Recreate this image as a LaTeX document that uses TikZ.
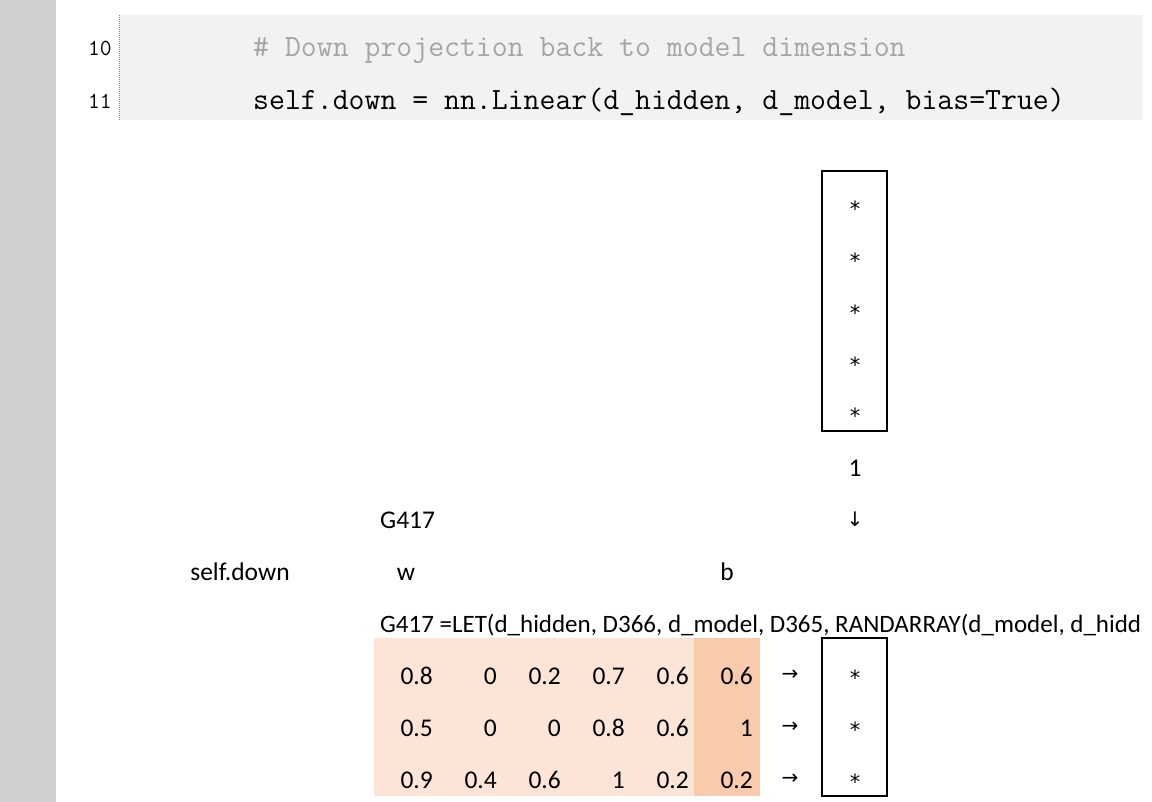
\documentclass[tikz,border=0pt]{standalone}
\usepackage{fontspec}
\setmainfont{Carlito}
\newfontfamily\arrowfont{DejaVu Sans}
\usetikzlibrary{positioning}

\definecolor{barGrey}{HTML}{D0CFD0}
\definecolor{codeBg}{HTML}{F2F2F2}
\definecolor{commentGrey}{HTML}{A5A5A5}
\definecolor{wFill}{HTML}{FCE4D6}
\definecolor{bFill}{HTML}{F8CBAD}

\begin{document}
\begin{tikzpicture}[x=1pt, y=-1pt,
    cell/.style={font=\fontsize{25.5}{30}\selectfont, inner sep=0pt, anchor=base},
    num/.style={cell, anchor=base east},
    star/.style={font=\fontsize{21}{24}\selectfont\arrowfont, inner sep=0pt, anchor=base},
    code/.style={font=\fontsize{30.9}{34}\selectfont\ttfamily, inner sep=0pt, anchor=base west},
    lineno/.style={font=\fontsize{23}{26}\selectfont\ttfamily, inner sep=0pt, anchor=base east},
    glyph/.style={font=\fontsize{20}{24}\selectfont\arrowfont, inner sep=0pt},
    vecbox/.style={draw, line width=1.6pt, minimum width=65pt, inner sep=0pt}
]
\useasboundingbox (0,0) rectangle (1152,802);
\clip (0,0) rectangle (1152,802);

% Sheet margin and code block
\fill[barGrey] (0,0) rectangle (56,802);
\fill[codeBg] (120,15) rectangle (1143,120);
\draw[densely dotted, gray, line width=1pt] (119,15) -- (119,120);

\node[lineno] (ln10) at (112,56) {10};
\node[lineno] (ln11) at (112,109) {11};
\node[code, text=commentGrey] (cmt) at (253,57) {\# Down projection back to model dimension};
\node[code] (decl) at (253,110) {self.down = nn.Linear(d\_hidden, d\_model, bias=True)};

% Input vector (d_hidden x 1)
\node[vecbox, minimum height=260pt] (hbox) at (854.5,301) {};
\foreach \y [count=\i from 0] in {207,259,311,363,414} {
    \node[star] (h-\i) at (855,\y+10) {*};
}
\node[cell] (dimOne) at (855,476) {1};
\node[glyph] (down) at (855,519) {↓};

% Labels
\node[cell, anchor=base west] (ref) at (380,528) {G417};
\node[cell] (lbl) at (240,580) {self.down};
\node[cell] (wlbl) at (406,580) {w};
\node[cell] (blbl) at (727,580) {b};
\node[cell, anchor=base west, font=\fontsize{25}{30}\selectfont] (fml) at (380,632) {G417 =LET(d\_hidden, D366, d\_model, D365, RANDARRAY(d\_model, d\_hidd};

% Weights and bias
\fill[wFill] (374,638) rectangle (694,796);
\fill[bFill] (694,638) rectangle (760,796);
\node[vecbox, minimum height=158pt] (obox) at (854.5,717) {};

\foreach \vals [count=\r from 0] in {{0.8,0,0.2,0.7,0.6,0.6},{0.5,0,0,0.8,0.6,1},{0.9,0.4,0.6,1,0.2,0.2}} {
    \foreach \v [count=\c from 0] in \vals {
        \node[num] (m-\r-\c) at (433+\c*64,684+\r*52) {\v};
    }
    \node[glyph] (arr-\r) at (790,675+\r*52) {→};
    \node[star] (o-\r) at (855,685+\r*52) {*};
}

\end{tikzpicture}
\end{document}
